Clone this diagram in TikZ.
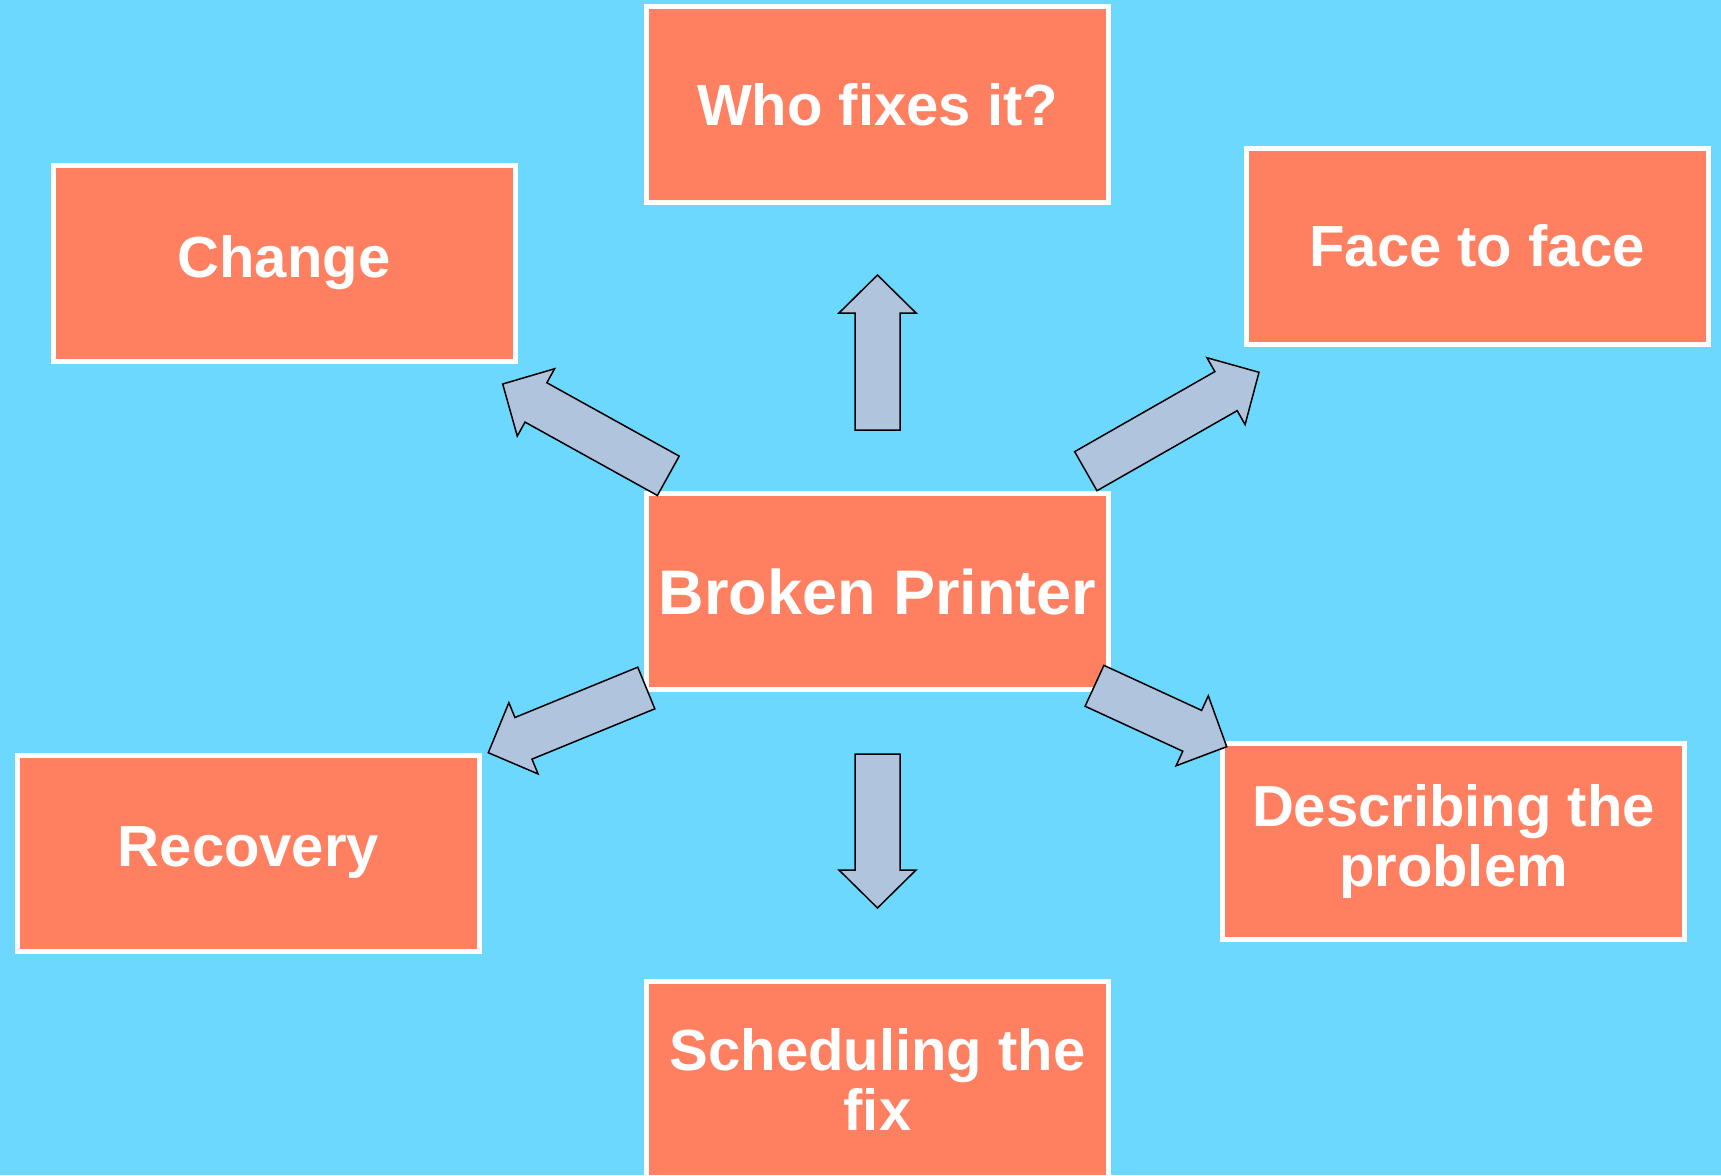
\documentclass[tikz,border=0pt]{standalone}
\usepackage{fontspec}
\setmainfont{Liberation Sans}
\usetikzlibrary{calc}

\definecolor{skyback}{RGB}{108,216,254}
\definecolor{coralbox}{RGB}{255,128,96}
\definecolor{steelarrow}{RGB}{176,196,222}

% block arrow from a tail coordinate to a tip coordinate
\newcommand\blockarrow[2]{%
  \coordinate (ba-h) at ($(#2)!38pt!(#1)$);
  \draw[fatarrow]
    ($(#1)!22.5pt!90:(#2)$) -- ($(ba-h)!22.5pt!-90:(#1)$) --
    ($(ba-h)!38.5pt!-90:(#1)$) -- (#2) --
    ($(ba-h)!38.5pt!90:(#1)$) -- ($(ba-h)!22.5pt!90:(#1)$) --
    ($(#1)!22.5pt!-90:(#2)$) -- cycle;
}

\begin{document}
\begin{tikzpicture}[x=1pt,y=-1pt,
  topic/.style={draw=white, line width=5pt, fill=coralbox,
    minimum width=462pt, minimum height=196pt, inner sep=0pt,
    align=center, text=white,
    font=\bfseries\fontsize{58}{60}\selectfont},
  hub/.style={topic, font=\bfseries\fontsize{63}{62}\selectfont},
  fatarrow/.style={draw=black, line width=1.5pt, fill=steelarrow, line join=miter}]

  \useasboundingbox (0,0) rectangle (1721,1175);
  \clip (0,0) rectangle (1721,1175);
  \fill[skyback] (0,0) rectangle (1721,1175);

  % topic boxes
  \node[hub]   (broken) at (877.5,591.5) {Broken Printer};
  \node[topic] (who)    at (877.5,104.5) {Who fixes it?};
  \node[topic] (change) at (284,263)     {Change};
  \node[topic] (face)   at (1477,246)    {Face to face};
  \node[topic] (recov)  at (248.5,853)   {Recovery};
  \node[topic] (descr)  at (1453.5,841)  {Describing the\\problem};
  \node[topic] (sched)  at (877.5,1079.5) {Scheduling the\\fix};

  % arrow ends between the hub and each topic
  \coordinate (up-t) at (877.5,430);   \coordinate (up-h) at (877.5,275);
  \coordinate (dn-t) at (877.5,754);   \coordinate (dn-h) at (877.5,908);
  \coordinate (ul-t) at (668.3,475.8); \coordinate (ul-h) at (502.7,384);
  \coordinate (ur-t) at (1085.8,471.2);\coordinate (ur-h) at (1259,372.3);
  \coordinate (ll-t) at (646.3,688);   \coordinate (ll-h) at (488.3,752.7);
  \coordinate (lr-t) at (1094.5,685.8);\coordinate (lr-h) at (1226.7,746.7);

  \blockarrow{up-t}{up-h}
  \blockarrow{dn-t}{dn-h}
  \blockarrow{ul-t}{ul-h}
  \blockarrow{ur-t}{ur-h}
  \blockarrow{ll-t}{ll-h}
  \blockarrow{lr-t}{lr-h}
\end{tikzpicture}
\end{document}
